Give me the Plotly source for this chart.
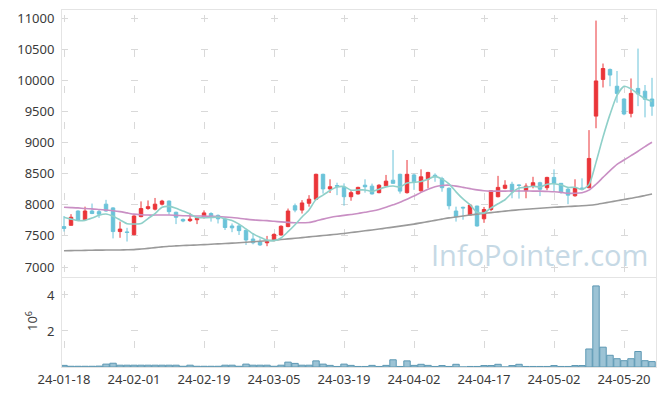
import plotly.graph_objects as go
from plotly.subplots import make_subplots

# ---------------- data ----------------
dates = [
    "24-01-18", "24-01-19", "24-01-22", "24-01-23", "24-01-24", "24-01-25", "24-01-26", "24-01-29", "24-01-30", "24-01-31",
    "24-02-01", "24-02-02", "24-02-05", "24-02-06", "24-02-07", "24-02-08", "24-02-13", "24-02-14", "24-02-15", "24-02-16",
    "24-02-19", "24-02-20", "24-02-21", "24-02-22", "24-02-23", "24-02-26", "24-02-27", "24-02-28", "24-02-29", "24-03-04",
    "24-03-05", "24-03-06", "24-03-07", "24-03-08", "24-03-11", "24-03-12", "24-03-13", "24-03-14", "24-03-15", "24-03-18",
    "24-03-19", "24-03-20", "24-03-21", "24-03-22", "24-03-25", "24-03-26", "24-03-27", "24-03-28", "24-03-29", "24-04-01",
    "24-04-02", "24-04-03", "24-04-04", "24-04-05", "24-04-08", "24-04-09", "24-04-11", "24-04-12", "24-04-15", "24-04-16",
    "24-04-17", "24-04-18", "24-04-19", "24-04-22", "24-04-23", "24-04-24", "24-04-25", "24-04-26", "24-04-29", "24-04-30",
    "24-05-02", "24-05-03", "24-05-07", "24-05-08", "24-05-09", "24-05-10", "24-05-13", "24-05-14", "24-05-16", "24-05-17",
    "24-05-20", "24-05-21", "24-05-22", "24-05-23", "24-05-24",
]

opens = [7650, 7670, 7900, 7760, 7900, 7890, 8010, 7950, 7570, 7565,
         7520, 7810, 7940, 7930, 8010, 8060, 7880, 7765, 7745, 7760,
         7795, 7860, 7830, 7770, 7660, 7660, 7590, 7450, 7405, 7390,
         7445, 7515, 7650, 7985, 7915, 8025, 8090, 8490, 8255, 8310,
         8280, 8130, 8175, 8315, 8300, 8195, 8305, 8395, 8490, 8195,
         8480, 8225, 8415, 8475, 8420, 8265, 7900, 7960, 7835, 7980,
         7775, 7925, 8130, 8265, 8330, 8320, 8225, 8300, 8355, 8275,
         8440, 8345, 8250, 8145, 8270, 8275, 9425, 10015, 10175, 9905,
         9700, 9470, 9870, 9825, 9700]
highs = [7820, 7850, 7910, 7970, 8020, 7930, 8080, 7960, 7730, 7630,
         7830, 8055, 8070, 8110, 8080, 8070, 7890, 7780, 7870, 7800,
         7910, 7880, 7845, 7800, 7700, 7690, 7605, 7540, 7460, 7500,
         7540, 7670, 7940, 8020, 8075, 8155, 8500, 8500, 8410, 8355,
         8345, 8240, 8290, 8410, 8340, 8330, 8480, 8880, 8500, 8720,
         8500, 8570, 8530, 8505, 8450, 8280, 7970, 7970, 8010, 7985,
         7965, 8235, 8465, 8395, 8370, 8330, 8345, 8450, 8370, 8450,
         8570, 8350, 8290, 8410, 8425, 9200, 10960, 10270, 10190, 10150,
         9710, 10030, 10510, 9925, 10040]
lows = [7570, 7670, 7740, 7750, 7850, 7790, 7890, 7460, 7470, 7410,
        7510, 7800, 7920, 7910, 7990, 7840, 7690, 7720, 7725, 7690,
        7780, 7730, 7700, 7595, 7560, 7515, 7355, 7365, 7340, 7335,
        7410, 7505, 7640, 7880, 7860, 7970, 8075, 8180, 8190, 8155,
        7985, 8065, 8165, 8195, 8165, 8185, 8300, 8340, 8180, 8180,
        8240, 8210, 8265, 8370, 8210, 7925, 7730, 7760, 7830, 7650,
        7710, 7900, 8120, 8250, 8105, 8100, 8105, 8265, 8140, 8235,
        8210, 8180, 8010, 8130, 8240, 8265, 9230, 9885, 9905, 9640,
        9440, 9405, 9585, 9405, 9430]
closes = [7620, 7800, 7750, 7900, 7860, 7850, 7900, 7570, 7610, 7555,
          7820, 7940, 7970, 8010, 8060, 7890, 7800, 7740, 7770, 7780,
          7870, 7820, 7775, 7635, 7630, 7585, 7435, 7390, 7355, 7405,
          7525, 7655, 7900, 7915, 8030, 8090, 8490, 8255, 8290, 8300,
          8130, 8195, 8280, 8290, 8175, 8315, 8380, 8345, 8220, 8490,
          8370, 8450, 8520, 8450, 8275, 7985, 7810, 7950, 7995, 7660,
          7925, 8225, 8280, 8315, 8210, 8310, 8300, 8355, 8250, 8440,
          8345, 8200, 8155, 8265, 8255, 8745, 9990, 10190, 10085, 9790,
          9460, 9790, 9780, 9695, 9585]

ma5 = [7800, 7770, 7745, 7750, 7786, 7832, 7852, 7816, 7758, 7697,
       7691, 7699, 7779, 7859, 7960, 7974, 7946, 7900, 7852, 7796,
       7792, 7796, 7803, 7776, 7746, 7689, 7612, 7535, 7479, 7434,
       7422, 7466, 7568, 7680, 7805, 7918, 8085, 8156, 8231, 8285,
       8293, 8234, 8239, 8239, 8214, 8251, 8288, 8301, 8287, 8350,
       8361, 8375, 8410, 8456, 8413, 8336, 8208, 8094, 8003, 7880,
       7868, 7951, 8017, 8081, 8191, 8268, 8283, 8298, 8285, 8331,
       8338, 8318, 8278, 8281, 8244, 8324, 8682, 9089, 9453, 9760,
       9903, 9863, 9781, 9703, 9662]
ma20 = [7960, 7955, 7950, 7940, 7935, 7925, 7915, 7905, 7890, 7870,
        7850, 7840, 7835, 7835, 7835, 7835, 7830, 7825, 7822, 7820,
        7818, 7815, 7812, 7805, 7795, 7785, 7770, 7758, 7750, 7745,
        7735, 7725, 7718, 7712, 7712, 7715, 7740, 7770, 7795, 7815,
        7830, 7845, 7860, 7880, 7900, 7925, 7960, 8000, 8040, 8090,
        8140, 8200, 8250, 8290, 8310, 8315, 8300, 8280, 8260, 8240,
        8225, 8220, 8220, 8220, 8222, 8222, 8222, 8220, 8220, 8215,
        8210, 8200, 8185, 8185, 8195, 8235, 8330, 8440, 8550, 8650,
        8720, 8790, 8860, 8935, 9005]
ma60 = [7262, 7264, 7266, 7268, 7270, 7272, 7273, 7274, 7275, 7277,
        7280, 7290, 7300, 7312, 7324, 7335, 7340, 7345, 7350, 7355,
        7360, 7366, 7372, 7378, 7384, 7390, 7398, 7406, 7414, 7422,
        7432, 7442, 7452, 7462, 7472, 7484, 7495, 7506, 7517, 7528,
        7540, 7554, 7568, 7582, 7596, 7610, 7626, 7642, 7658, 7674,
        7690, 7710, 7730, 7750, 7770, 7790, 7805, 7820, 7835, 7850,
        7862, 7874, 7886, 7898, 7910, 7920, 7928, 7936, 7944, 7952,
        7960, 7966, 7972, 7978, 7984, 7992, 8005, 8025, 8045, 8065,
        8085, 8105, 8125, 8150, 8175]

volume_millions = [0.09, 0.04, 0.04, 0.04, 0.04, 0.05, 0.16, 0.21, 0.10, 0.10,
                   0.10, 0.10, 0.10, 0.10, 0.10, 0.10, 0.10, 0.04, 0.10, 0.04,
                   0.04, 0.04, 0.04, 0.10, 0.10, 0.04, 0.16, 0.10, 0.10, 0.10,
                   0.04, 0.10, 0.27, 0.20, 0.10, 0.10, 0.34, 0.16, 0.09, 0.03,
                   0.16, 0.09, 0.03, 0.03, 0.09, 0.03, 0.09, 0.40, 0.03, 0.34,
                   0.09, 0.15, 0.09, 0.03, 0.08, 0.03, 0.15, 0.00, 0.03, 0.03,
                   0.08, 0.08, 0.15, 0.00, 0.08, 0.15, 0.03, 0.03, 0.03, 0.03,
                   0.08, 0.03, 0.03, 0.08, 0.08, 1.00, 4.50, 1.10, 0.65, 0.46,
                   0.35, 0.46, 0.86, 0.35, 0.30]

price_ticks = [7000, 7500, 8000, 8500, 9000, 9500, 10000, 10500, 11000]
volume_ticks = [2, 4]
date_ticks = dates[::10]

# ---------------- layout geometry / styles ----------------
W, H = 665, 396
ML, MR, MT, MB = 62, 9, 10, 29
plot_w = W - ML - MR
plot_h = H - MT - MB
price_top_px, price_bot_px = 10, 277
vol_top_px, vol_bot_px = 278, 367
price_dom = [(vol_bot_px - price_bot_px) / plot_h, 1.0]
vol_dom = [0.0, (vol_bot_px - vol_top_px) / plot_h]

x_range = [-0.29, len(dates) - 1 + 0.57]
price_range = [6840, 11130]
vol_range = [0, 4.94]

UP = "#ea3539"
DOWN = "#6bc3d9"
GRID = "#d9d9d9"
FRAME = "#e4e4e4"
ARM = 3.5  # half-size of the grid "+" marks

px_cat = plot_w / (x_range[1] - x_range[0])
xspace = 10 * px_cat
xoff = (0 - x_range[0]) * px_cat
hdash = f"{xoff + ARM:.2f}px,{xspace - 2 * ARM:.2f}px,{ARM - xoff:.2f}px,0px"


def vdash(rng, top_px, bot_px, first_tick, step):
    ppu = (bot_px - top_px) / (rng[1] - rng[0])
    off = (rng[1] - first_tick) * ppu
    sp = step * ppu
    return f"0px,{off - ARM:.2f}px,{2 * ARM:.2f}px,{sp - 2 * ARM:.2f}px"


price_vdash = vdash(price_range, price_top_px, price_bot_px, 11000, 500)
vol_vdash = vdash(vol_range, vol_top_px, vol_bot_px, 4, 2)

FONT = "Noto Sans"

fig = make_subplots(rows=2, cols=1, shared_xaxes=True, vertical_spacing=0)

fig.add_trace(go.Candlestick(
    x=dates, open=opens, high=highs, low=lows, close=closes,
    increasing=dict(line=dict(color=UP, width=1), fillcolor=UP),
    decreasing=dict(line=dict(color=DOWN, width=1), fillcolor=DOWN),
    whiskerwidth=0, hoverinfo="skip", showlegend=False,
), row=1, col=1)

for vals, col in ((ma60, "#9a9a9a"), (ma20, "#c98fc4"), (ma5, "#8fd0c9")):
    fig.add_trace(go.Scatter(
        x=dates, y=vals, mode="lines",
        line=dict(color=col, width=1.6, shape="spline", smoothing=0.6),
        hoverinfo="skip", showlegend=False,
    ), row=1, col=1)

fig.add_trace(go.Bar(
    x=dates, y=volume_millions, width=0.92,
    marker=dict(color="#9cc3d5", line=dict(color="#5d98b3", width=1)),
    hoverinfo="skip", showlegend=False,
), row=2, col=1)

axis_font = dict(family=FONT, size=13, color="#3a3a3a")

fig.update_xaxes(
    type="category", range=x_range, showgrid=True, gridcolor=GRID, gridwidth=1,
    tickmode="array", tickvals=date_ticks, ticktext=date_ticks,
    showline=True, mirror=True, linecolor=FRAME, linewidth=1,
    ticks="", tickfont=axis_font, zeroline=False, rangeslider=dict(visible=False),
)
fig.update_xaxes(domain=[0, 1], griddash=price_vdash, showticklabels=False, row=1, col=1)
fig.update_xaxes(griddash=vol_vdash, showticklabels=True, ticklabelstandoff=0, row=2, col=1)

fig.update_yaxes(
    domain=price_dom, range=price_range, tickmode="array", tickvals=price_ticks,
    ticktext=[str(v) for v in price_ticks],
    showgrid=True, gridcolor=GRID, griddash=hdash, zeroline=False,
    showline=True, mirror=True, linecolor=FRAME, ticks="", tickfont=axis_font,
    ticklabelstandoff=4, row=1, col=1,
)
fig.update_yaxes(
    domain=vol_dom, range=vol_range, tickmode="array", tickvals=volume_ticks,
    ticktext=[str(v) for v in volume_ticks],
    showgrid=True, gridcolor=GRID, griddash=hdash, zeroline=False,
    showline=True, mirror=True, linecolor=FRAME, ticks="", tickfont=axis_font,
    ticklabelstandoff=4, row=2, col=1,
)

fig.update_layout(
    width=W, height=H, margin=dict(l=ML, r=MR, t=MT, b=MB, autoexpand=False),
    paper_bgcolor="white", plot_bgcolor="white", showlegend=False,
    font=dict(family=FONT), hovermode=False, boxgap=0.3,
    annotations=[
        dict(text="InfoPointer.com", xref="paper", yref="paper",
             x=(539 - ML) / plot_w, y=(vol_bot_px - 254) / plot_h,
             xanchor="center", yanchor="middle", showarrow=False,
             font=dict(family="Open Sans", size=29, color="#c6d9e5")),
        dict(text="10<sup>6</sup>", xref="paper", yref="paper",
             x=(31 - ML) / plot_w, y=(vol_bot_px - 321) / plot_h,
             xanchor="center", yanchor="middle", showarrow=False, textangle=-90,
             font=dict(family=FONT, size=13, color="#3a3a3a")),
    ],
)

fig.write_html(
    "out.html",
    config={"displayModeBar": False},
    post_script="document.body.style.margin='0px';document.body.style.padding='0px';",
)
